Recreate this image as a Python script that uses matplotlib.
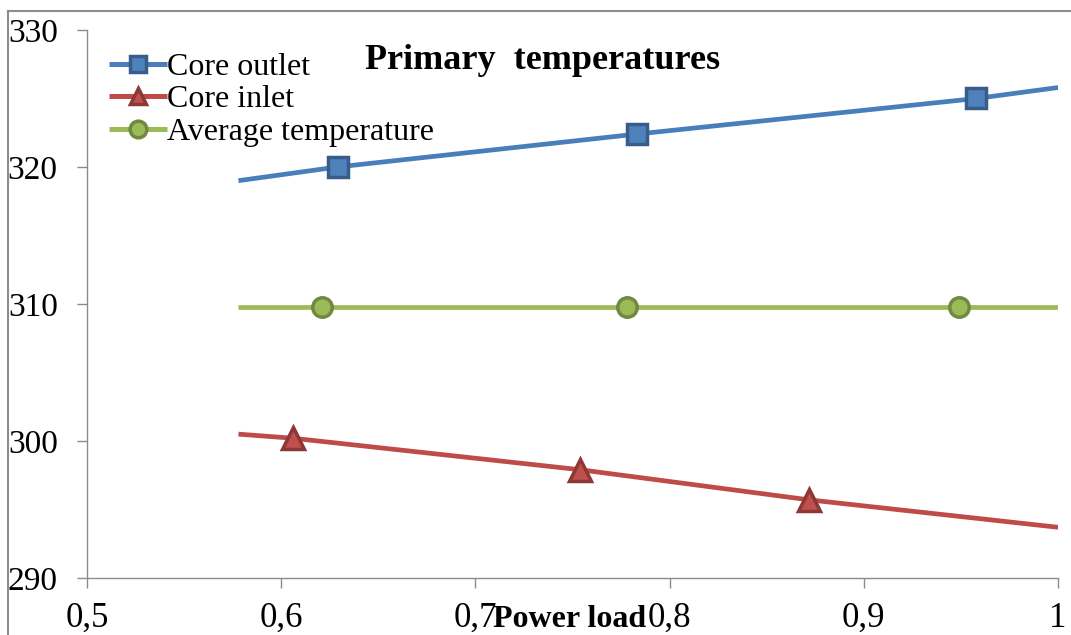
import numpy as np
import matplotlib.pyplot as plt
from matplotlib.legend_handler import HandlerLine2D
from matplotlib.lines import Line2D
from matplotlib.transforms import blended_transform_factory

plt.rcParams['font.family'] = 'Liberation Serif'

# Power load (x) and temperature (y); first/last points are line ends, inner ones carry markers
outlet_x = [0.578, 0.629, 0.783, 0.958, 1.0]
outlet_y = [319.0, 320.0, 322.4, 325.0, 325.8]

inlet_x = [0.578, 0.606, 0.754, 0.872, 1.0]
inlet_y = [300.5, 300.2, 297.9, 295.7, 293.7]

avg_x = [0.578, 0.621, 0.778, 0.949, 1.0]
avg_y = [309.8, 309.8, 309.8, 309.8, 309.8]

x_ticks = [0.5, 0.6, 0.7, 0.8, 0.9, 1.0]
x_ticklabels = ['0,5', '0,6', '0,7', '0,8', '0,9', '1']
y_ticks = [290, 300, 310, 320, 330]


class EndMarkerHandler(HandlerLine2D):
    # put the legend marker at the right end of the line sample
    def get_xdata(self, legend, xdescent, ydescent, width, height, fontsize):
        xdata = np.array([-xdescent, -xdescent + width])
        return xdata, np.array([-xdescent + width])


fig = plt.figure(figsize=(10.71, 6.35), dpi=100)
ax = fig.add_axes([0.0812, 0.0898, 0.9067, 0.863])

ax.plot(outlet_x, outlet_y, color='#4A7EBB', lw=3.4, marker='s', markevery=[1, 2, 3],
        ms=15, mfc='#4F81BD', mec='#385D8A', mew=2.5, label='Core outlet', solid_capstyle='butt')
ax.plot(inlet_x, inlet_y, color='#BE4B48', lw=3.4, marker='^', markevery=[1, 2, 3],
        ms=16, mfc='#C0504D', mec='#8C3836', mew=2.5, label='Core inlet', solid_capstyle='butt')
ax.plot(avg_x, avg_y, color='#9BBB59', lw=3.4, marker='o', markevery=[1, 2, 3],
        ms=14, mfc='#9BBB59', mec='#71893F', mew=2.5, label='Average temperature', solid_capstyle='butt')

ax.set_xlim(0.5, 1.0)
ax.set_ylim(290, 330)
ax.set_xticks(x_ticks)
ax.set_xticklabels(x_ticklabels)
ax.set_yticks(y_ticks)

for side in ['top', 'right']:
    ax.spines[side].set_visible(False)
for side in ['left', 'bottom']:
    ax.spines[side].set_color('#8C8C8C')
    ax.spines[side].set_linewidth(1.0)
ax.tick_params(axis='both', colors='#8C8C8C', length=7, width=1.0, labelcolor='black')
ax.tick_params(axis='y', pad=14, labelsize=24)
ax.tick_params(axis='x', pad=10, labelsize=25)

leg = ax.legend(handler_map={Line2D: EndMarkerHandler(numpoints=1)}, loc='upper left',
                bbox_to_anchor=(0.0, 1.0), frameon=False, fontsize=23, handlelength=1.8,
                handletextpad=0.0, labelspacing=0.1, borderaxespad=0.3)
for h in leg.legend_handles:
    h.set_markersize(12)
    h.set_linewidth(3.6)

ax.text(0.469, 0.945, 'Primary  temperatures', transform=ax.transAxes, fontsize=26,
        fontweight='bold', ha='center', va='center')
label_tr = blended_transform_factory(ax.transData, ax.transAxes)
ax.text(0.7485, -0.076, 'Power load', transform=label_tr, fontsize=23,
        fontweight='bold', ha='center', va='center')

# outer frame of the chart area
fig.add_artist(Line2D([0.0075, 1.0], [0.983, 0.983], transform=fig.transFigure, color='#8C8C8C', lw=1.5))
fig.add_artist(Line2D([0.0075, 0.0075], [0.0, 0.983], transform=fig.transFigure, color='#8C8C8C', lw=1.5))

fig.savefig('out.png', dpi=100)
